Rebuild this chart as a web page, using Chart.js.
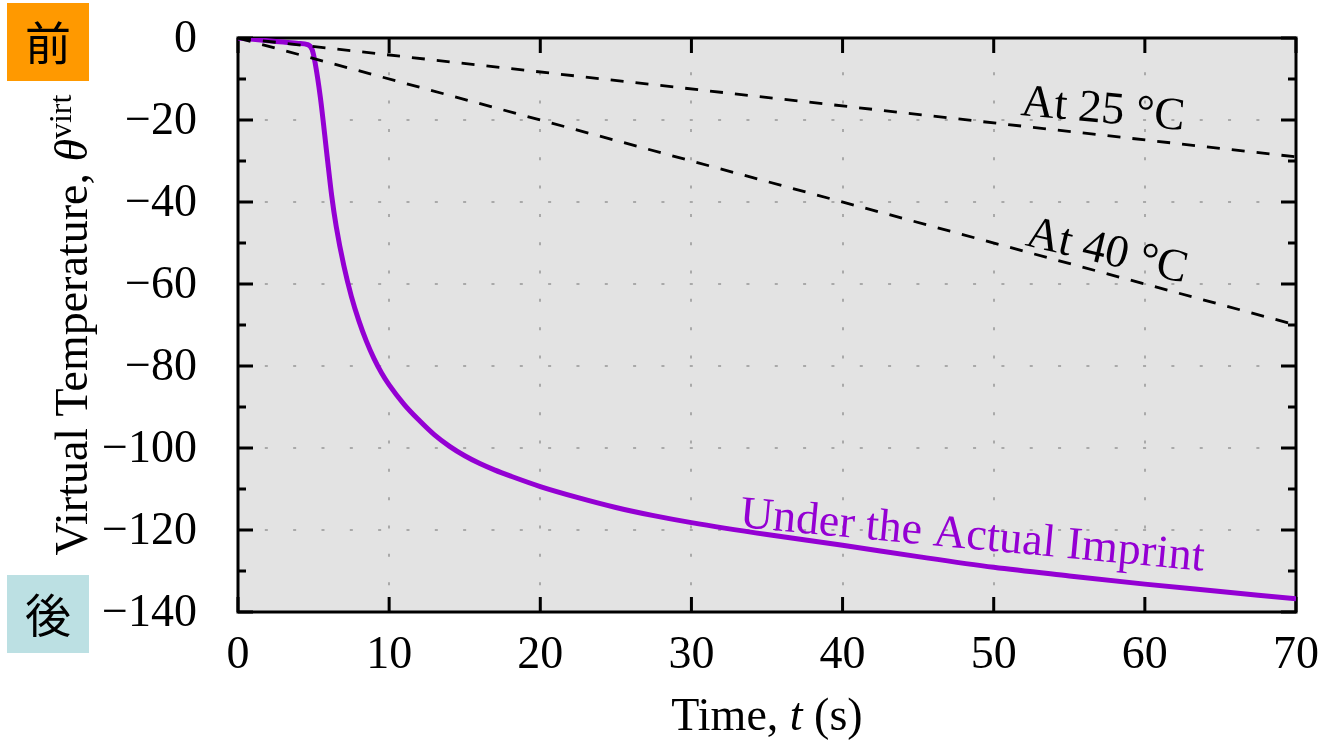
<!DOCTYPE html>
<html>
<head>
<meta charset="utf-8">
<script src="https://cdn.jsdelivr.net/npm/chart.js@4/dist/chart.umd.min.js"></script>
<style>
  html, body { margin: 0; padding: 0; background: #ffffff; }
  #wrap { width: 1326px; height: 743px; }
</style>
</head>
<body>
<div id="wrap"><canvas id="c" width="1326" height="743"></canvas></div>
<script>
// Time axis (s) and virtual temperature readings
const imprintTime = [0, 1, 2, 3, 4, 4.6, 4.9, 5.1, 5.45, 5.9, 6.2, 6.5, 7.0, 7.5, 8.0, 8.5, 9.0, 9.5, 10, 11, 12, 13, 14, 15, 16, 17, 18, 20, 22.5, 25, 27.5, 30, 35, 40, 45, 50, 55, 60, 65, 70];
const imprintTemp = [0, -0.33, -0.66, -1.0, -1.33, -1.6, -2.8, -6, -14.5, -29, -38.5, -46, -55.5, -63, -69, -74, -78.2, -81.7, -84.6, -89.4, -93.3, -96.8, -99.6, -101.9, -103.8, -105.4, -106.8, -109.4, -112.1, -114.5, -116.5, -118.2, -121.1, -123.7, -126.5, -129.1, -131.2, -133.2, -135.0, -136.8];

const time25 = [0, 70];
const temp25 = [0, -29];
const time40 = [0, 70];
const temp40 = [0, -70];

const xTicks = [0, 10, 20, 30, 40, 50, 60, 70];
const yTicks = [0, -20, -40, -60, -80, -100, -120, -140];
const yMinorTicks = [-10, -30, -50, -70, -90, -110, -130];

const seriesLabels = ['Under the Actual Imprint', 'At 25 °C', 'At 40 °C'];

const SERIF = '"Liberation Serif", "Times New Roman", serif';
const CJK = '"Noto Sans CJK JP", "Noto Sans CJK SC", sans-serif';
const PURPLE = '#9400d3';

const pts = (xs, ys) => xs.map((x, i) => ({ x, y: ys[i] }));

function fmt(v) {
  return v < 0 ? '\u2212' + Math.abs(v) : String(v);
}

// Background, dotted grid and framed axes with inward ticks
const axesPlugin = {
  id: 'axesPlugin',
  beforeDraw(chart) {
    const { ctx, chartArea: a } = chart;
    ctx.save();
    ctx.fillStyle = '#ffffff';
    ctx.fillRect(0, 0, chart.width, chart.height);
    ctx.fillStyle = '#e3e3e3';
    ctx.fillRect(a.left, a.top, a.right - a.left, a.bottom - a.top);
    ctx.restore();
  },
  beforeDatasetsDraw(chart) {
    const { ctx, chartArea: a, scales } = chart;
    const xs = scales.x, ys = scales.y;
    ctx.save();
    // grid
    ctx.strokeStyle = '#a9a9a9';
    ctx.lineWidth = 2;
    ctx.setLineDash([3, 25.33]);
    ctx.lineDashOffset = 1.5;
    yTicks.forEach(v => {
      const y = Math.round(ys.getPixelForValue(v));
      if (y <= a.top + 1 || y >= a.bottom - 1) return;
      ctx.beginPath();
      ctx.moveTo(a.left, y);
      ctx.lineTo(a.right, y);
      ctx.stroke();
    });
    xTicks.forEach(v => {
      const x = Math.round(xs.getPixelForValue(v));
      if (x <= a.left + 1 || x >= a.right - 1) return;
      ctx.beginPath();
      ctx.moveTo(x, a.bottom);
      ctx.lineTo(x, a.top);
      ctx.stroke();
    });
    ctx.setLineDash([]);

    // ticks
    ctx.strokeStyle = '#000000';
    ctx.lineWidth = 3;
    const major = 15, minor = 8;
    ctx.beginPath();
    yTicks.forEach(v => {
      const y = ys.getPixelForValue(v);
      ctx.moveTo(a.left, y); ctx.lineTo(a.left + major, y);
      ctx.moveTo(a.right, y); ctx.lineTo(a.right - major, y);
    });
    yMinorTicks.forEach(v => {
      const y = ys.getPixelForValue(v);
      ctx.moveTo(a.left, y); ctx.lineTo(a.left + minor, y);
      ctx.moveTo(a.right, y); ctx.lineTo(a.right - minor, y);
    });
    xTicks.forEach(v => {
      const x = xs.getPixelForValue(v);
      ctx.moveTo(x, a.bottom); ctx.lineTo(x, a.bottom - major);
      ctx.moveTo(x, a.top); ctx.lineTo(x, a.top + major);
    });
    ctx.stroke();

    // frame
    ctx.lineWidth = 3;
    ctx.strokeRect(a.left, a.top, a.right - a.left, a.bottom - a.top);
    ctx.restore();
  },
  afterDatasetsDraw(chart) {
    const { ctx, chartArea: a, scales } = chart;
    const xs = scales.x, ys = scales.y;
    ctx.save();
    ctx.fillStyle = '#000000';
    ctx.font = '46px ' + SERIF;

    // tick labels
    ctx.textAlign = 'right';
    ctx.textBaseline = 'alphabetic';
    yTicks.forEach(v => {
      ctx.fillText(fmt(v), a.left - 41, ys.getPixelForValue(v) + 13.5);
    });
    ctx.textAlign = 'center';
    xTicks.forEach(v => {
      ctx.fillText(fmt(v), xs.getPixelForValue(v), a.bottom + 56);
    });

    // x-axis title: Time, t (s)
    const cx = (a.left + a.right) / 2;
    const parts = [
      { t: 'Time, ', f: '46px ' + SERIF },
      { t: 't', f: 'italic 46px ' + SERIF },
      { t: ' (s)', f: '46px ' + SERIF }
    ];
    let w = 0;
    parts.forEach(p => { ctx.font = p.f; p.w = ctx.measureText(p.t).width; w += p.w; });
    ctx.textAlign = 'left';
    let px = cx - w / 2;
    parts.forEach(p => { ctx.font = p.f; ctx.fillText(p.t, px, 730); px += p.w; });

    // y-axis title: Virtual Temperature, θ^virt
    const cy = (a.top + a.bottom) / 2;
    const yparts = [
      { t: 'Virtual Temperature, ', f: '46px ' + SERIF, dy: 0 },
      { t: '\u03b8', f: 'italic 46px ' + SERIF, dy: 0 },
      { t: 'virt', f: '32px ' + SERIF, dy: -16 }
    ];
    w = 0;
    yparts.forEach(p => { ctx.font = p.f; p.w = ctx.measureText(p.t).width; w += p.w; });
    ctx.save();
    ctx.translate(87, cy);
    ctx.rotate(-Math.PI / 2);
    px = -w / 2;
    yparts.forEach(p => { ctx.font = p.f; ctx.fillText(p.t, px, p.dy); px += p.w; });
    ctx.restore();

    // series labels, sloped along their curves
    const label = (text, tx, ty, deg, color) => {
      ctx.save();
      ctx.translate(xs.getPixelForValue(tx), ys.getPixelForValue(ty));
      ctx.rotate(deg * Math.PI / 180);
      ctx.font = '46px ' + SERIF;
      ctx.fillStyle = color;
      ctx.textAlign = 'center';
      ctx.textBaseline = 'alphabetic';
      ctx.fillText(text, 0, 0);
      ctx.restore();
    };
    label(seriesLabels[1], 57.15, -20.6, 5.3, '#000000');
    label(seriesLabels[2], 57.3, -55.1, 13.3, '#000000');
    label(seriesLabels[0], 48.5, -124.6, 5.4, PURPLE);

    // before / after markers
    ctx.fillStyle = '#ff9900';
    ctx.fillRect(7, 3, 82, 78);
    ctx.fillStyle = '#bce0e3';
    ctx.fillRect(7, 575, 82, 78);
    ctx.fillStyle = '#000000';
    ctx.font = '46px ' + CJK;
    ctx.textAlign = 'center';
    ctx.textBaseline = 'middle';
    ctx.fillText('前', 48, 43);
    ctx.fillText('後', 48, 615);
    ctx.restore();
  }
};

new Chart(document.getElementById('c'), {
  type: 'line',
  data: {
    datasets: [
      {
        label: seriesLabels[1],
        data: pts(time25, temp25),
        borderColor: '#000000',
        borderWidth: 2.8,
        borderDash: [13, 12],
        pointRadius: 0,
        fill: false
      },
      {
        label: seriesLabels[2],
        data: pts(time40, temp40),
        borderColor: '#000000',
        borderWidth: 2.8,
        borderDash: [13, 12],
        pointRadius: 0,
        fill: false
      },
      {
        label: seriesLabels[0],
        data: pts(imprintTime, imprintTemp),
        borderColor: PURPLE,
        borderWidth: 5,
        pointRadius: 0,
        cubicInterpolationMode: 'monotone',
        fill: false
      }
    ]
  },
  options: {
    responsive: false,
    animation: false,
    devicePixelRatio: 1,
    layout: { padding: { left: 238, top: 38, right: 30, bottom: 131 } },
    plugins: { legend: { display: false }, tooltip: { enabled: false } },
    scales: {
      x: { type: 'linear', min: 0, max: 70, display: false },
      y: { type: 'linear', min: -140, max: 0, display: false }
    }
  },
  plugins: [axesPlugin]
});
</script>
</body>
</html>
